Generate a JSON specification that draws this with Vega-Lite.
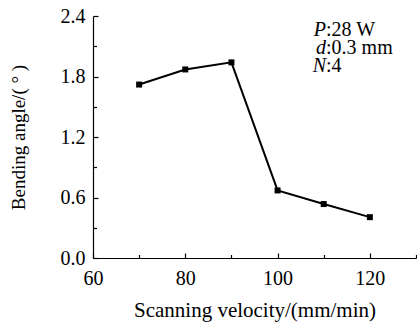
{
  "$schema": "https://vega.github.io/schema/vega-lite/v6.json",
  "width": 323,
  "height": 242,
  "autosize": "none",
  "padding": {"left": 93, "top": 16, "right": 1, "bottom": 66},
  "background": "white",
  "config": {
    "view": {"stroke": null},
    "font": "Liberation Serif",
    "axis": {
      "domainColor": "black",
      "domainWidth": 1.2,
      "tickColor": "black",
      "tickWidth": 1.2,
      "labelColor": "black",
      "titleColor": "black",
      "labelFont": "Liberation Serif",
      "titleFont": "Liberation Serif",
      "labelFontSize": 20,
      "titleFontSize": 20,
      "titleFontWeight": "normal",
      "grid": false
    }
  },
  "datasets": {
    "pts": [
      {"v": 70, "a": 1.72},
      {"v": 80, "a": 1.87},
      {"v": 90, "a": 1.94},
      {"v": 100, "a": 0.67},
      {"v": 110, "a": 0.535},
      {"v": 120, "a": 0.405}
    ],
    "notes": [
      {"v": 110.5, "a": 2.2, "sym": "P", "rest": ":28 W"},
      {"v": 110.5, "a": 2.02, "sym": "d", "rest": ":0.3 mm"},
      {"v": 110.5, "a": 1.845, "sym": "N", "rest": ":4"}
    ]
  },
  "layer": [
    {
      "data": {"name": "pts"},
      "mark": {"type": "line", "color": "black", "strokeWidth": 2},
      "encoding": {
        "x": {
          "field": "v", "type": "quantitative",
          "scale": {"domain": [60, 130], "nice": false, "zero": false},
          "axis": {
            "values": [60, 80, 100, 120],
            "tickSize": -5,
            "labelPadding": 15,
            "title": "Scanning velocity/(mm/min)",
            "titleFontSize": 21,
            "titlePadding": 11,
            "labelFlush": false
          }
        },
        "y": {
          "field": "a", "type": "quantitative",
          "scale": {"domain": [0, 2.4], "nice": false},
          "axis": {
            "values": [0, 0.6, 1.2, 1.8, 2.4],
            "format": ".1f",
            "tickSize": -5,
            "labelPadding": 13,
            "title": "Bending angle/( ° )",
            "titleFontSize": 19,
            "titlePadding": 32,
            "labelFlush": false
          }
        }
      }
    },
    {
      "data": {"name": "pts"},
      "mark": {"type": "square", "color": "black", "opacity": 1, "size": 36},
      "encoding": {
        "x": {"field": "v", "type": "quantitative", "axis": null},
        "y": {"field": "a", "type": "quantitative", "axis": null}
      }
    },
    {
      "data": {"name": "pts"},
      "mark": {"type": "point", "opacity": 0},
      "encoding": {
        "x": {
          "field": "v", "type": "quantitative",
          "axis": {"orient": "bottom", "values": [70, 90, 110, 130], "labels": false, "domain": false, "tickSize": -3.5, "title": null}
        },
        "y": {
          "field": "a", "type": "quantitative",
          "axis": {"orient": "left", "values": [0.3, 0.9, 1.5, 2.1], "labels": false, "domain": false, "tickSize": -3.5, "title": null}
        }
      }
    },
    {
      "data": {"name": "notes"},
      "mark": {"type": "text", "align": "right", "baseline": "alphabetic", "fontStyle": "italic", "fontSize": 20, "font": "Liberation Serif", "color": "black"},
      "encoding": {
        "x": {"field": "v", "type": "quantitative", "axis": null},
        "y": {"field": "a", "type": "quantitative", "axis": null},
        "text": {"field": "sym"}
      }
    },
    {
      "data": {"name": "notes"},
      "mark": {"type": "text", "align": "left", "baseline": "alphabetic", "fontSize": 20, "font": "Liberation Serif", "color": "black"},
      "encoding": {
        "x": {"field": "v", "type": "quantitative", "axis": null},
        "y": {"field": "a", "type": "quantitative", "axis": null},
        "text": {"field": "rest"}
      }
    }
  ],
  "resolve": {"axis": {"x": "independent", "y": "independent"}}
}
